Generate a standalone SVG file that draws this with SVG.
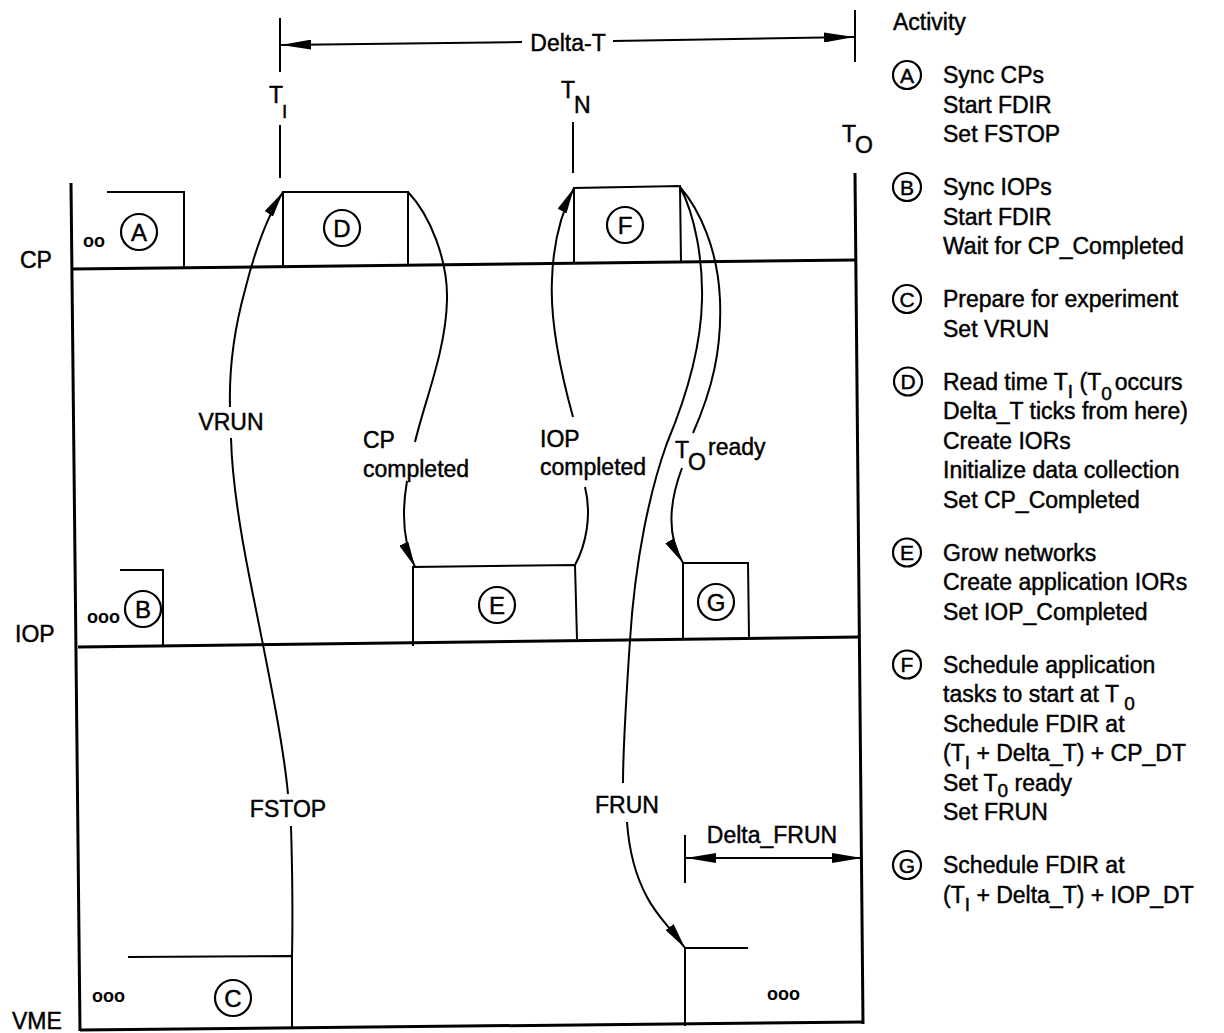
<svg xmlns="http://www.w3.org/2000/svg" width="1224" height="1033" viewBox="0 0 1224 1033">
<style>
.ln{stroke:#000;fill:none;stroke-width:2}
.fr{stroke:#000;fill:none;stroke-width:3}
.t{font-family:"Liberation Sans",Arial,Helvetica,sans-serif;font-size:23px;fill:#000;stroke:#000;stroke-width:0.45}
.c{font-family:"Liberation Sans",Arial,Helvetica,sans-serif;font-size:24px;fill:#000;stroke:#000;stroke-width:0.45;text-anchor:middle}
.lc{font-family:"Liberation Sans",Arial,Helvetica,sans-serif;font-size:21px;fill:#000;stroke:#000;stroke-width:0.45;text-anchor:middle}
.dots{font-family:"Liberation Sans",Arial,Helvetica,sans-serif;font-size:18px;font-weight:bold;fill:#000}
.circ{stroke:#000;fill:none;stroke-width:2.2}
</style>
<defs>
<marker id="ah" viewBox="0 0 26 10" refX="26" refY="5" markerWidth="26" markerHeight="10" markerUnits="userSpaceOnUse" orient="auto"><path d="M0,0 L26,5 L0,10 z" fill="#000"/></marker>
<marker id="dh" viewBox="0 0 30 10" refX="30" refY="5" markerWidth="30" markerHeight="10" markerUnits="userSpaceOnUse" orient="auto"><path d="M0,0 L30,5 L0,10 z" fill="#000"/></marker>
</defs>
<rect width="1224" height="1033" fill="#fff"/>

<g id="frame">
<path class="fr" d="M71,183 L80,1031"/>
<path class="fr" d="M855,173 L863,1024"/>
<path class="fr" d="M72,269 L855,260"/>
<path class="fr" d="M78,647 L860,637"/>
<path class="fr" d="M80,1030 L863,1022"/>
<text class="t" x="20" y="268">CP</text>
<text class="t" x="15" y="642">IOP</text>
<text class="t" x="12" y="1029">VME</text>
</g>

<g id="timing">
<path class="ln" d="M280,18 L280,72 M280,125 L280,178"/>
<text class="t" x="269" y="103">T<tspan x="282" y="118" font-size="19">I</tspan></text>
<path class="ln" d="M573,122 L573,173"/>
<text class="t" x="561" y="98">T<tspan x="574" y="113">N</tspan></text>
<path class="ln" d="M855,10 L855,62"/>
<text class="t" x="842" y="142">T<tspan x="855" y="153">O</tspan></text>
<path class="ln" d="M522,42 L281,45" marker-end="url(#dh)"/>
<path class="ln" d="M613,41 L854,37" marker-end="url(#dh)"/>
<text class="t" x="568" y="51" text-anchor="middle">Delta-T</text>
<path class="ln" d="M685,835 L685,883"/>
<path class="ln" d="M700,858 L686,858" marker-end="url(#dh)"/>
<path class="ln" d="M700,858 L862,858" marker-end="url(#dh)"/>
<text class="t" x="772" y="843" text-anchor="middle">Delta_FRUN</text>
</g>

<g id="node-A">
<path class="ln" d="M107,192 L184,192 L184,268"/>
<text class="dots" x="83" y="247">oo</text>
<circle class="circ" cx="139" cy="232" r="18"/>
<text class="c" x="139" y="240.5">A</text>
</g>

<g id="node-D">
<path class="ln" d="M283,267 L283,192 L408,192 L408,266"/>
<circle class="circ" cx="342" cy="228" r="18"/>
<text class="c" x="342" y="236.5">D</text>
</g>

<g id="node-F">
<path class="ln" d="M574,262 L574,188 L680,186 L681,262"/>
<circle class="circ" cx="625" cy="225" r="18"/>
<text class="c" x="625" y="233.5">F</text>
</g>

<g id="node-B">
<path class="ln" d="M120,570 L163,570 L163,646"/>
<text class="dots" x="87" y="623">ooo</text>
<circle class="circ" cx="143" cy="609" r="18"/>
<text class="c" x="143" y="617.5">B</text>
</g>

<g id="node-E">
<path class="ln" d="M413,646 L413,567 L575,565 L577,639"/>
<circle class="circ" cx="497" cy="605" r="18"/>
<text class="c" x="497" y="613.5">E</text>
</g>

<g id="node-G">
<path class="ln" d="M683,638 L683,563 L748,563 L749,637"/>
<circle class="circ" cx="716" cy="602" r="18"/>
<text class="c" x="716" y="610.5">G</text>
</g>

<g id="node-C">
<path class="ln" d="M128,957 L292,956 L292,1029"/>
<text class="dots" x="92" y="1002">ooo</text>
<circle class="circ" cx="233" cy="998" r="18"/>
<text class="c" x="233" y="1006.5">C</text>
</g>

<g id="node-VME-run">
<path class="ln" d="M685,1026 L685,948 L748,948"/>
<text class="dots" x="767" y="1000">ooo</text>
</g>

<g id="connectors">
<path class="ln" d="M292,956 C293,910 292,860 291,826"/>
<path class="ln" d="M288,794 C283,740 266,660 250,580 C240,530 232,480 231,438"/>
<path class="ln" d="M230,407 C229,370 234,330 245,290 C255,250 268,215 283,192" marker-end="url(#ah)"/>
<text class="t" x="288" y="817" text-anchor="middle">FSTOP</text>
<text class="t" x="231" y="430" text-anchor="middle">VRUN</text>

<path class="ln" d="M408,192 C430,215 448,260 447,300 C446,350 425,400 415,442"/>
<path class="ln" d="M407,481 C402,510 402,540 415,567" marker-end="url(#ah)"/>
<text class="t" x="363" y="448">CP</text>
<text class="t" x="363" y="477">completed</text>

<path class="ln" d="M575,565 C586,545 592,515 585,487"/>
<path class="ln" d="M573,417 C560,370 550,320 552,280 C553,245 560,215 574,188" marker-end="url(#ah)"/>
<text class="t" x="540" y="447">IOP</text>
<text class="t" x="540" y="475">completed</text>

<path class="ln" d="M680,187 C700,210 718,250 720,300 C722,350 712,390 693,433"/>
<path class="ln" d="M682,468 C670,500 666,535 683,563" marker-end="url(#ah)"/>
<text class="t" x="675" y="458">T<tspan x="688" y="470">O</tspan><tspan x="708" y="455">ready</tspan></text>

<path class="ln" d="M680,187 C695,215 703,260 702,300 C701,350 685,400 667,443 C650,490 635,560 630,640 C626,700 623,750 623,783"/>
<path class="ln" d="M627,822 C629,850 635,875 647,897 C656,915 668,925 685,948" marker-end="url(#ah)"/>
<text class="t" x="627" y="813" text-anchor="middle">FRUN</text>
</g>

<g id="legend">
<text class="t" x="893" y="30">Activity</text>

<circle class="circ" cx="907" cy="75" r="14"/><text class="lc" x="907" y="82.5">A</text>
<text class="t" x="943" y="83">Sync CPs</text>
<text class="t" x="943" y="112.5">Start FDIR</text>
<text class="t" x="943" y="142">Set FSTOP</text>

<circle class="circ" cx="907" cy="187" r="14"/><text class="lc" x="907" y="194.5">B</text>
<text class="t" x="943" y="195">Sync IOPs</text>
<text class="t" x="943" y="224.5">Start FDIR</text>
<text class="t" x="943" y="254">Wait for CP_Completed</text>

<circle class="circ" cx="907" cy="299" r="14"/><text class="lc" x="907" y="306.5">C</text>
<text class="t" x="943" y="307">Prepare for experiment</text>
<text class="t" x="943" y="336.5">Set VRUN</text>

<circle class="circ" cx="908" cy="381.5" r="14"/><text class="lc" x="908" y="389">D</text>
<text class="t" x="943" y="389.5">Read time T<tspan font-size="19" dy="8">I</tspan><tspan dy="-8"> (T</tspan><tspan font-size="19" dy="10">0</tspan><tspan dy="-10" dx="3">occurs</tspan></text>
<text class="t" x="943" y="419">Delta_T ticks from here)</text>
<text class="t" x="943" y="448.5">Create IORs</text>
<text class="t" x="943" y="478">Initialize data collection</text>
<text class="t" x="943" y="507.5">Set CP_Completed</text>

<circle class="circ" cx="907" cy="552.5" r="14"/><text class="lc" x="907" y="560">E</text>
<text class="t" x="943" y="560.5">Grow networks</text>
<text class="t" x="943" y="590">Create application IORs</text>
<text class="t" x="943" y="619.5">Set IOP_Completed</text>

<circle class="circ" cx="907" cy="664.5" r="14"/><text class="lc" x="907" y="672">F</text>
<text class="t" x="943" y="672.5">Schedule application</text>
<text class="t" x="943" y="702">tasks to start at T<tspan font-size="19" dy="8"> 0</tspan></text>
<text class="t" x="943" y="731.5">Schedule FDIR at</text>
<text class="t" x="943" y="761">(T<tspan font-size="19" dy="8">I</tspan><tspan dy="-8"> + Delta_T) + CP_DT</tspan></text>
<text class="t" x="943" y="790.5">Set T<tspan font-size="19" dy="6">0</tspan><tspan dy="-6">  ready</tspan></text>
<text class="t" x="943" y="820">Set FRUN</text>

<circle class="circ" cx="907" cy="865" r="14"/><text class="lc" x="907" y="872.5">G</text>
<text class="t" x="943" y="873">Schedule FDIR at</text>
<text class="t" x="943" y="902.5">(T<tspan font-size="19" dy="8">I</tspan><tspan dy="-8"> + Delta_T) + IOP_DT</tspan></text>
</g>
</svg>
